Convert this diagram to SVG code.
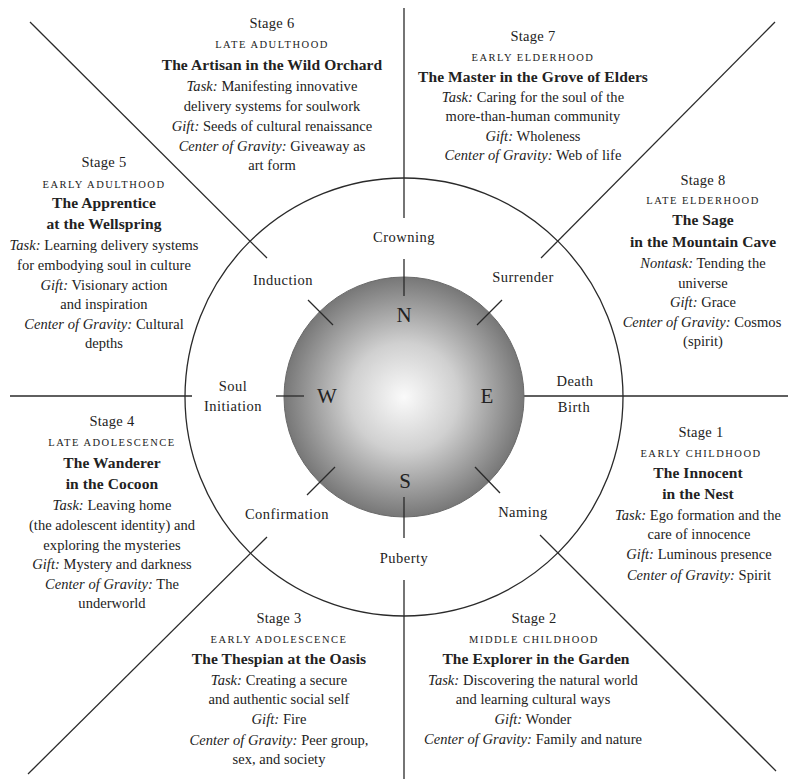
<svg xmlns="http://www.w3.org/2000/svg" width="788" height="779" viewBox="0 0 788 779">
<defs>
<radialGradient id="sphere" cx="50%" cy="50%" r="50%">
<stop offset="0" stop-color="#fafafa"/>
<stop offset="0.45" stop-color="#d0d0d0"/>
<stop offset="1" stop-color="#777777"/>
</radialGradient>
<style>
text{font-family:"Liberation Serif","Times New Roman",serif;fill:#222;text-anchor:middle}
.b{font-size:14.5px;letter-spacing:0.05px}
.st{font-size:14.5px;letter-spacing:0.3px}
.sc{font-size:10.5px;letter-spacing:1.5px}
.t{font-size:15.5px;font-weight:bold;letter-spacing:0.1px}
.i{font-style:italic}
.lb{font-size:14.5px;letter-spacing:0.5px}
.cp{font-size:21px}
.ln{stroke:#2a2a2a;stroke-width:1.3;fill:none}
</style>
</defs>
<rect width="788" height="779" fill="#fff"/>

<g id="connectors">
<circle class="ln" cx="404" cy="397" r="219"/>
<line class="ln" x1="404" y1="8" x2="404" y2="218"/>
<line class="ln" x1="404" y1="580" x2="404" y2="779"/>
<line class="ln" x1="10" y1="396" x2="192" y2="396"/>
<line class="ln" x1="505" y1="396" x2="788" y2="396"/>
<line class="ln" x1="30" y1="22" x2="267" y2="258"/>
<line class="ln" x1="775" y1="22" x2="541" y2="258"/>
<line class="ln" x1="28" y1="774" x2="267" y2="537"/>
<line class="ln" x1="776" y1="771" x2="540" y2="535"/>
</g>

<g id="compass">
<circle cx="404" cy="397" r="120" fill="url(#sphere)" stroke="#6a6a6a" stroke-width="1"/>
<line class="ln" x1="404" y1="259" x2="404" y2="296"/>
<line class="ln" x1="404" y1="497" x2="404" y2="538"/>
<line class="ln" x1="276" y1="396" x2="304" y2="396"/>
<line class="ln" x1="308" y1="300" x2="333" y2="325"/>
<line class="ln" x1="502" y1="300" x2="477" y2="325"/>
<line class="ln" x1="307" y1="495" x2="335" y2="467"/>
<line class="ln" x1="500" y1="493" x2="475" y2="467"/>
<text class="cp" x="404" y="322">N</text>
<text class="cp" x="327" y="403">W</text>
<text class="cp" x="487" y="403">E</text>
<text class="cp" x="405" y="488">S</text>
</g>

<g id="labels">
<text class="lb" x="404" y="242">Crowning</text>
<text class="lb" x="283" y="285">Induction</text>
<text class="lb" x="523" y="282">Surrender</text>
<text class="lb" x="233" y="391">Soul</text>
<text class="lb" x="233" y="411">Initiation</text>
<text class="lb" x="575" y="386">Death</text>
<text class="lb" x="574" y="412">Birth</text>
<text class="lb" x="287" y="519">Confirmation</text>
<text class="lb" x="523" y="517">Naming</text>
<text class="lb" x="404" y="563">Puberty</text>
</g>

<g id="stage6">
<text class="st" x="272" y="28">Stage 6</text>
<text class="sc" x="272" y="48">LATE ADULTHOOD</text>
<text class="t" x="272" y="70">The Artisan in the Wild Orchard</text>
<text class="b" x="272" y="91"><tspan class="i">Task:</tspan> Manifesting innovative</text>
<text class="b" x="272" y="111">delivery systems for soulwork</text>
<text class="b" x="272" y="131"><tspan class="i">Gift:</tspan> Seeds of cultural renaissance</text>
<text class="b" x="272" y="151"><tspan class="i">Center of Gravity:</tspan> Giveaway as</text>
<text class="b" x="272" y="170">art form</text>
</g>

<g id="stage7">
<text class="st" x="533" y="41">Stage 7</text>
<text class="sc" x="533" y="61">EARLY ELDERHOOD</text>
<text class="t" x="533" y="82">The Master in the Grove of Elders</text>
<text class="b" x="533" y="102"><tspan class="i">Task:</tspan> Caring for the soul of the</text>
<text class="b" x="533" y="121">more-than-human community</text>
<text class="b" x="533" y="141"><tspan class="i">Gift:</tspan> Wholeness</text>
<text class="b" x="533" y="160"><tspan class="i">Center of Gravity:</tspan> Web of life</text>
</g>

<g id="stage5">
<text class="st" x="104" y="167">Stage 5</text>
<text class="sc" x="104" y="188">EARLY ADULTHOOD</text>
<text class="t" x="104" y="208">The Apprentice</text>
<text class="t" x="104" y="229">at the Wellspring</text>
<text class="b" x="104" y="250"><tspan class="i">Task:</tspan> Learning delivery systems</text>
<text class="b" x="104" y="270">for embodying soul in culture</text>
<text class="b" x="104" y="290"><tspan class="i">Gift:</tspan> Visionary action</text>
<text class="b" x="104" y="309">and inspiration</text>
<text class="b" x="104" y="329"><tspan class="i">Center of Gravity:</tspan> Cultural</text>
<text class="b" x="104" y="348">depths</text>
</g>

<g id="stage8">
<text class="st" x="703" y="185">Stage 8</text>
<text class="sc" x="703" y="204">LATE ELDERHOOD</text>
<text class="t" x="703" y="225">The Sage</text>
<text class="t" x="703" y="247">in the Mountain Cave</text>
<text class="b" x="703" y="268"><tspan class="i">Nontask:</tspan> Tending the</text>
<text class="b" x="703" y="288">universe</text>
<text class="b" x="703" y="307"><tspan class="i">Gift:</tspan> Grace</text>
<text class="b" x="702" y="327"><tspan class="i">Center of Gravity:</tspan> Cosmos</text>
<text class="b" x="703" y="346">(spirit)</text>
</g>

<g id="stage4">
<text class="st" x="112" y="426">Stage 4</text>
<text class="sc" x="112" y="446">LATE ADOLESCENCE</text>
<text class="t" x="112" y="468">The Wanderer</text>
<text class="t" x="112" y="489">in the Cocoon</text>
<text class="b" x="112" y="510"><tspan class="i">Task:</tspan> Leaving home</text>
<text class="b" x="112" y="530">(the adolescent identity) and</text>
<text class="b" x="112" y="550">exploring the mysteries</text>
<text class="b" x="112" y="569"><tspan class="i">Gift:</tspan> Mystery and darkness</text>
<text class="b" x="112" y="589"><tspan class="i">Center of Gravity:</tspan> The</text>
<text class="b" x="112" y="608">underworld</text>
</g>

<g id="stage1">
<text class="st" x="701" y="437">Stage 1</text>
<text class="sc" x="701" y="457">EARLY CHILDHOOD</text>
<text class="t" x="698" y="478">The Innocent</text>
<text class="t" x="698" y="499">in the Nest</text>
<text class="b" x="698" y="520"><tspan class="i">Task:</tspan> Ego formation and the</text>
<text class="b" x="699" y="539">care of innocence</text>
<text class="b" x="699" y="559"><tspan class="i">Gift:</tspan> Luminous presence</text>
<text class="b" x="699" y="580"><tspan class="i">Center of Gravity:</tspan> Spirit</text>
</g>

<g id="stage3">
<text class="st" x="279" y="623">Stage 3</text>
<text class="sc" x="279" y="643">EARLY ADOLESCENCE</text>
<text class="t" x="279" y="664">The Thespian at the Oasis</text>
<text class="b" x="279" y="685"><tspan class="i">Task:</tspan> Creating a secure</text>
<text class="b" x="279" y="704">and authentic social self</text>
<text class="b" x="279" y="724"><tspan class="i">Gift:</tspan> Fire</text>
<text class="b" x="279" y="745"><tspan class="i">Center of Gravity:</tspan> Peer group,</text>
<text class="b" x="279" y="764">sex, and society</text>
</g>

<g id="stage2">
<text class="st" x="534" y="623">Stage 2</text>
<text class="sc" x="534" y="643">MIDDLE CHILDHOOD</text>
<text class="t" x="536" y="664">The Explorer in the Garden</text>
<text class="b" x="533" y="685"><tspan class="i">Task:</tspan> Discovering the natural world</text>
<text class="b" x="533" y="704">and learning cultural ways</text>
<text class="b" x="533" y="724"><tspan class="i">Gift:</tspan> Wonder</text>
<text class="b" x="533" y="744"><tspan class="i">Center of Gravity:</tspan> Family and nature</text>
</g>
</svg>
